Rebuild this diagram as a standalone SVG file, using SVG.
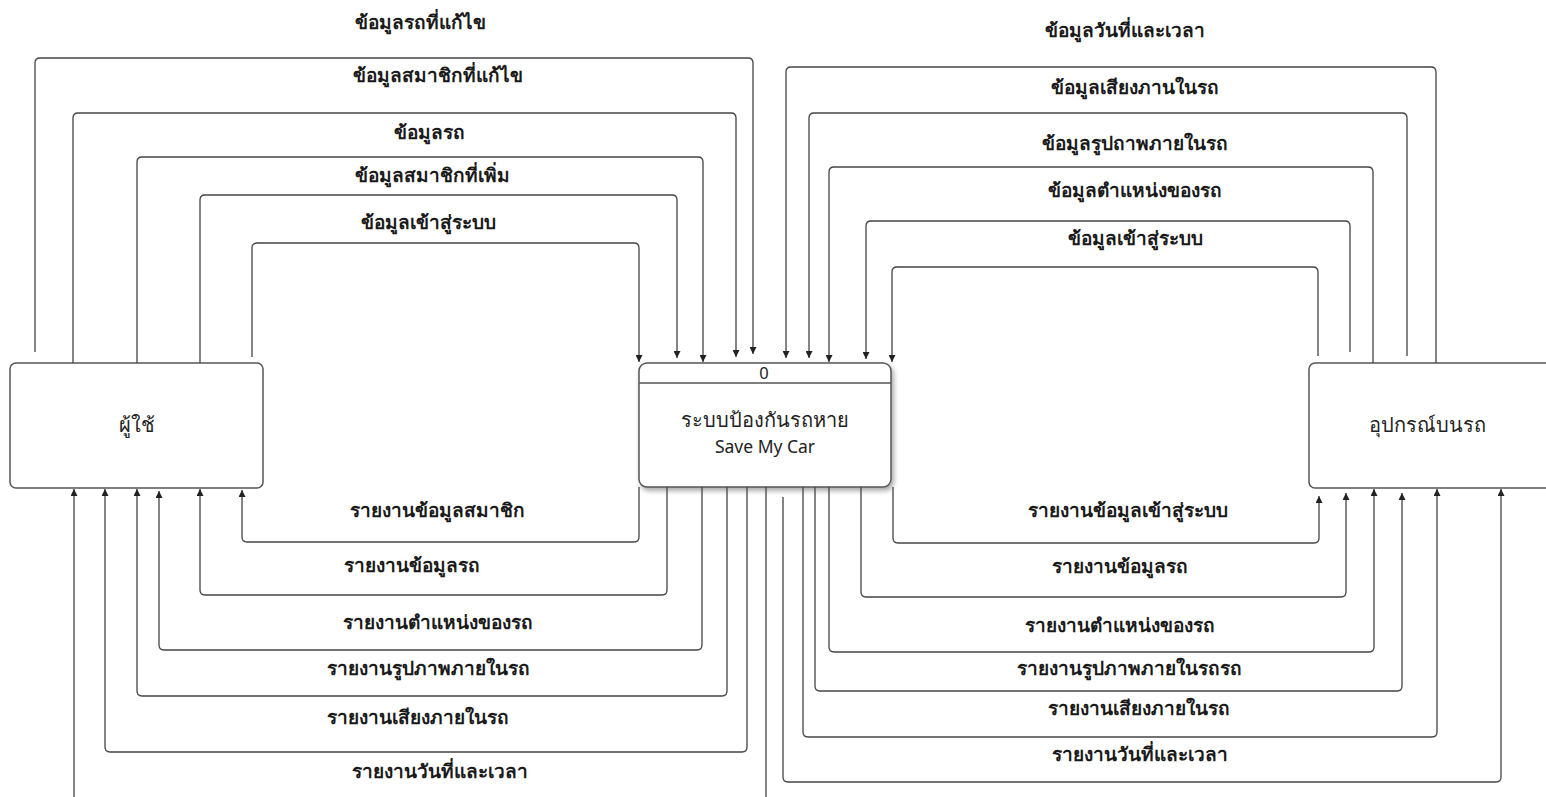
<svg xmlns="http://www.w3.org/2000/svg" width="1546" height="797" viewBox="0 0 1546 797">
  <style>
    .node { fill: #ffffff; stroke: #555555; stroke-width: 1.5; }
    .flow { fill: none; stroke: #444444; stroke-width: 1.3; }
    .arr { marker-end: url(#head); }
    .lbl { font-family: "Noto Sans", "DejaVu Sans", sans-serif; font-size: 19px; font-weight: bold; fill: #1a1a1a; text-anchor: middle; }
    .ntxt { font-family: "Noto Sans", "DejaVu Sans", sans-serif; font-size: 20px; fill: #222222; text-anchor: middle; }
    .latin { font-size: 17.5px; }
    .pid { font-size: 16.5px; }
  </style>
  <defs>
    <marker id="head" viewBox="0 0 10 10" refX="10" refY="5" markerWidth="8" markerHeight="7" markerUnits="userSpaceOnUse" orient="auto">
      <path d="M0,0 L10,5 L0,10 Z" fill="#222222"/>
    </marker>
    <filter id="shadow" x="-10%" y="-10%" width="125%" height="130%">
      <feDropShadow dx="2" dy="3" stdDeviation="2.5" flood-color="#000000" flood-opacity="0.35"/>
    </filter>
  </defs>

  <rect width="1546" height="797" fill="#ffffff"/>

  <!-- external entity: user -->
  <g id="user">
    <rect class="node" x="10" y="363" width="253" height="125" rx="6"/>
    <text class="ntxt" x="137" y="432">ผู้ใช้</text>
  </g>

  <!-- process 0 -->
  <g id="process0">
    <rect class="node" x="639" y="363" width="252" height="124" rx="8" filter="url(#shadow)"/>
    <line x1="639" y1="383" x2="891" y2="383" stroke="#555555" stroke-width="1.3"/>
    <text class="ntxt pid" x="764" y="379">0</text>
    <text class="ntxt" x="765" y="427">ระบบป้องกันรถหาย</text>
    <text class="ntxt latin" x="765" y="453">Save My Car</text>
  </g>

  <!-- external entity: in-car device -->
  <g id="device">
    <rect class="node" x="1309" y="363" width="250" height="125" rx="6"/>
    <text class="ntxt" x="1427" y="432">อุปกรณ์บนรถ</text>
  </g>

  <!-- data flows -->
  <g id="connectors">
    <!-- user to process -->
    <path class="flow arr" d="M35,352 V63 Q35,58 40,58 H748 Q753,58 753,63 V354"/>
    <path class="flow arr" d="M73,363 V118 Q73,113 78,113 H731 Q736,113 736,118 V357"/>
    <path class="flow arr" d="M137,363 V162 Q137,157 142,157 H698 Q703,157 703,162 V362"/>
    <path class="flow arr" d="M200,363 V200 Q200,195 205,195 H672 Q677,195 677,200 V358"/>
    <path class="flow arr" d="M252,357 V248 Q252,243 257,243 H634 Q639,243 639,248 V362"/>

    <!-- device to process -->
    <path class="flow arr" d="M1436,363 V72 Q1436,67 1431,67 H791 Q786,67 786,72 V358"/>
    <path class="flow arr" d="M1407,356 V118 Q1407,113 1402,113 H814 Q809,113 809,118 V358"/>
    <path class="flow arr" d="M1373,363 V172 Q1373,167 1368,167 H834 Q829,167 829,172 V362"/>
    <path class="flow arr" d="M1350,352 V226 Q1350,221 1345,221 H871 Q866,221 866,226 V359"/>
    <path class="flow arr" d="M1318,356 V272 Q1318,267 1313,267 H897 Q892,267 892,272 V362"/>

    <!-- process to user -->
    <path class="flow arr" d="M639,487 V537 Q639,542 634,542 H247 Q242,542 242,537 V490"/>
    <path class="flow arr" d="M667,487 V590 Q667,595 662,595 H205 Q200,595 200,590 V489"/>
    <path class="flow arr" d="M702,487 V645 Q702,650 697,650 H164 Q159,650 159,645 V491"/>
    <path class="flow arr" d="M727,487 V691 Q727,696 722,696 H142 Q137,696 137,691 V489"/>
    <path class="flow arr" d="M747,487 V747 Q747,752 742,752 H110 Q105,752 105,747 V489"/>
    <path class="flow arr" d="M766,487 V820 H74 V489"/>

    <!-- process to device -->
    <path class="flow arr" d="M893,487 V538 Q893,543 898,543 H1314 Q1319,543 1319,538 V496"/>
    <path class="flow arr" d="M861,487 V592 Q861,597 866,597 H1341 Q1346,597 1346,592 V493"/>
    <path class="flow arr" d="M829,487 V647 Q829,652 834,652 H1369 Q1374,652 1374,647 V489"/>
    <path class="flow arr" d="M815,487 V686 Q815,691 820,691 H1397 Q1402,691 1402,686 V493"/>
    <path class="flow arr" d="M803,487 V732 Q803,737 808,737 H1432 Q1437,737 1437,732 V489"/>
    <path class="flow arr" d="M783,497 V777 Q783,782 788,782 H1496 Q1501,782 1501,777 V489"/>
  </g>

  <!-- flow labels -->
  <g id="labels">
    <text class="lbl" x="420" y="29">ข้อมูลรถที่แก้ไข</text>
    <text class="lbl" x="438" y="82">ข้อมูลสมาชิกที่แก้ไข</text>
    <text class="lbl" x="429" y="139">ข้อมูลรถ</text>
    <text class="lbl" x="432" y="182">ข้อมูลสมาชิกที่เพิ่ม</text>
    <text class="lbl" x="428" y="229">ข้อมูลเข้าสู่ระบบ</text>

    <text class="lbl" x="1125" y="37">ข้อมูลวันที่และเวลา</text>
    <text class="lbl" x="1135" y="94">ข้อมูลเสียงภานในรถ</text>
    <text class="lbl" x="1135" y="150">ข้อมูลรูปถาพภายในรถ</text>
    <text class="lbl" x="1135" y="197">ข้อมูลตำแหน่งของรถ</text>
    <text class="lbl" x="1135" y="245">ข้อมูลเข้าสู่ระบบ</text>

    <text class="lbl" x="437" y="517">รายงานข้อมูลสมาชิก</text>
    <text class="lbl" x="412" y="572">รายงานข้อมูลรถ</text>
    <text class="lbl" x="438" y="629">รายงานตำแหน่งของรถ</text>
    <text class="lbl" x="428" y="675">รายงานรูปภาพภายในรถ</text>
    <text class="lbl" x="418" y="724">รายงานเสียงภายในรถ</text>
    <text class="lbl" x="440" y="778">รายงานวันที่และเวลา</text>

    <text class="lbl" x="1128" y="517">รายงานข้อมูลเข้าสู่ระบบ</text>
    <text class="lbl" x="1120" y="573">รายงานข้อมูลรถ</text>
    <text class="lbl" x="1120" y="632">รายงานตำแหน่งของรถ</text>
    <text class="lbl" x="1129" y="675">รายงานรูปภาพภายในรถรถ</text>
    <text class="lbl" x="1139" y="715">รายงานเสียงภายในรถ</text>
    <text class="lbl" x="1140" y="761">รายงานวันที่และเวลา</text>
  </g>
</svg>
